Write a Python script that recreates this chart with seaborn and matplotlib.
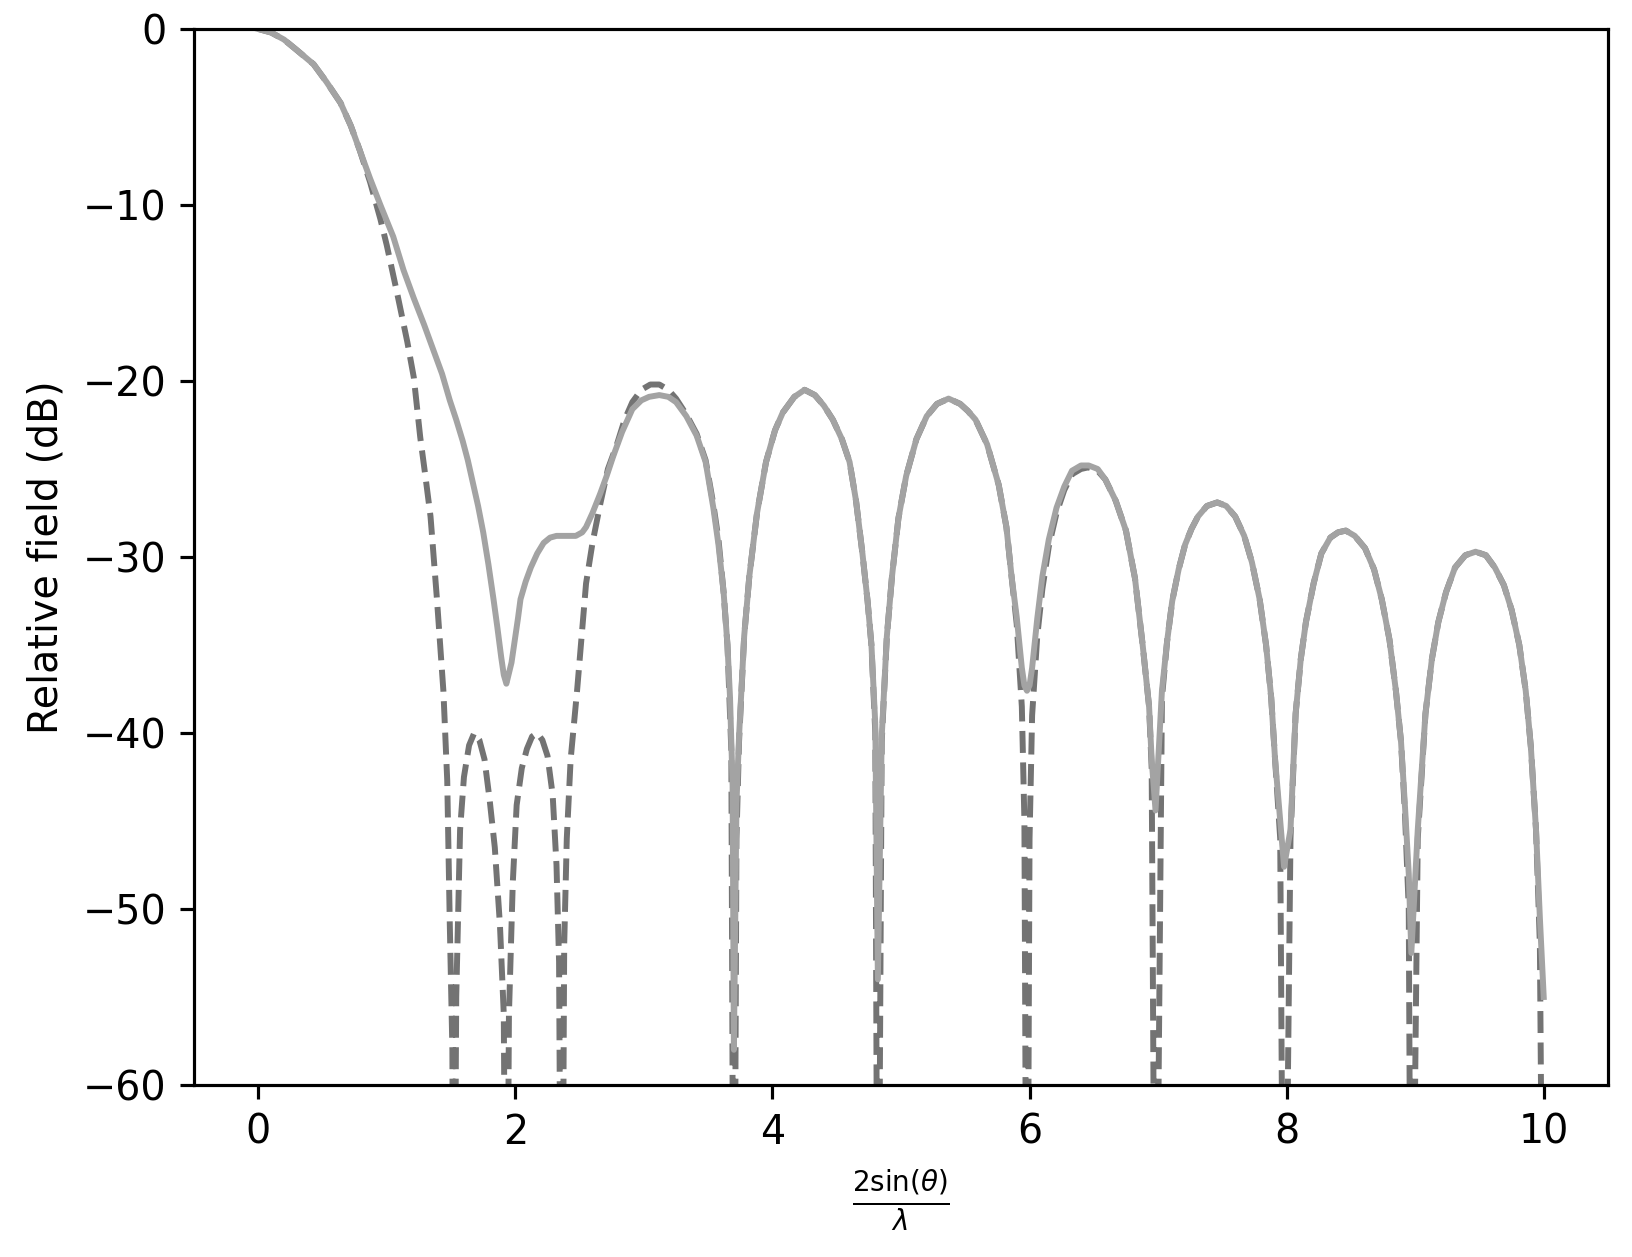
import matplotlib
matplotlib.use("Agg")
import matplotlib.pyplot as plt
import seaborn as sns
import pandas as pd

# values (x = 2 sin(theta) / lambda, y = dB)
head_solid_x = [0.0, 0.1, 0.2, 0.3, 0.43, 0.53, 0.64, 0.72, 0.79, 0.87, 0.95, 1.05, 1.13, 1.21,
                1.29, 1.36, 1.43, 1.49, 1.54, 1.59, 1.63, 1.67, 1.71, 1.75, 1.79, 1.83, 1.86,
                1.89, 1.91, 1.93, 1.95, 1.97, 1.99, 2.02, 2.04, 2.08, 2.12, 2.17, 2.22, 2.27,
                2.32, 2.40, 2.47, 2.52, 2.55, 2.60, 2.66, 2.71, 2.76, 2.83, 2.91, 2.98, 3.04,
                3.12, 3.19, 3.25, 3.33, 3.41, 3.48, 3.54, 3.58, 3.62, 3.65, 3.67, 3.69, 3.70]
head_solid_y = [0.0, -0.2, -0.6, -1.2, -2.0, -3.0, -4.2, -5.5, -6.9, -8.5, -10.0, -11.8, -13.7, -15.3,
                -16.8, -18.2, -19.6, -21.1, -22.2, -23.4, -24.5, -25.8, -27.1, -28.6, -30.4, -32.4, -34.0,
                -35.7, -36.7, -37.2, -36.6, -36.0, -35.0, -33.5, -32.4, -31.4, -30.6, -29.8, -29.2, -28.9,
                -28.8, -28.8, -28.8, -28.6, -28.3, -27.5, -26.4, -25.4, -24.3, -22.9, -21.6, -21.1, -20.9,
                -20.8, -20.9, -21.2, -22.0, -23.1, -24.6, -27.2, -29.3, -32.0, -35.0, -38.0, -43.0, -58.0]

head_dash_x = [0.0, 0.1, 0.2, 0.3, 0.43, 0.53, 0.64, 0.72, 0.79, 0.87, 0.95, 1.00, 1.08, 1.16,
               1.21, 1.26, 1.30, 1.34, 1.39, 1.44, 1.47, 1.49, 1.51, 1.52, 1.54, 1.57, 1.60,
               1.64, 1.68, 1.72, 1.76, 1.80, 1.84, 1.88, 1.91, 1.93, 1.95, 1.98, 2.01, 2.05,
               2.09, 2.13, 2.17, 2.21, 2.25, 2.29, 2.32, 2.34, 2.36, 2.38, 2.40, 2.43, 2.48,
               2.55, 2.60, 2.66, 2.72, 2.79, 2.85, 2.91, 2.98, 3.05, 3.12, 3.19, 3.25, 3.33,
               3.41, 3.48, 3.54, 3.58, 3.62, 3.65, 3.68, 3.70]
head_dash_y = [0.0, -0.2, -0.6, -1.2, -2.0, -3.0, -4.2, -5.5, -6.9, -8.7, -10.8, -12.3, -15.0, -17.8,
               -19.8, -23.2, -25.4, -27.7, -32.4, -37.6, -42.7, -50.9, -58.0, -80.0, -55.0, -45.5, -42.5,
               -40.7, -40.0, -40.4, -41.5, -43.8, -46.5, -50.9, -56.0, -80.0, -56.0, -48.5, -44.1, -42.0,
               -40.9, -40.2, -40.0, -40.4, -41.3, -43.5, -47.5, -53.0, -80.0, -52.0, -46.0, -41.5, -37.6,
               -31.5, -29.2, -27.0, -25.0, -23.6, -22.2, -21.2, -20.5, -20.2, -20.2, -20.5, -21.0, -21.9,
               -23.0, -24.5, -27.0, -29.0, -32.0, -35.0, -41.0, -80.0]

tail_x = [3.72, 3.74, 3.78, 3.82, 3.88, 3.95, 4.02, 4.08, 4.17, 4.25, 4.33, 4.40, 4.47, 4.54,
          4.60, 4.65, 4.70, 4.74, 4.77, 4.80, 4.82, 4.85, 4.89, 4.93, 4.98, 5.04, 5.12, 5.20,
          5.28, 5.37, 5.46, 5.52, 5.58, 5.67, 5.76, 5.82, 5.86, 5.90, 5.94, 5.96, 5.98, 6.00,
          6.02, 6.06, 6.10, 6.15, 6.21, 6.27, 6.33, 6.40, 6.46, 6.53, 6.59, 6.67, 6.75, 6.82,
          6.88, 6.93, 6.95, 6.98, 7.03, 7.07, 7.11, 7.16, 7.21, 7.26, 7.31, 7.38, 7.46, 7.53,
          7.60, 7.67, 7.73, 7.79, 7.84, 7.88, 7.91, 7.95, 7.98, 8.03, 8.07, 8.11, 8.15, 8.21,
          8.27, 8.34, 8.40, 8.46, 8.53, 8.61, 8.68, 8.74, 8.80, 8.85, 8.89, 8.92, 8.95, 8.97,
          9.02, 9.08, 9.13, 9.18, 9.24, 9.31, 9.39, 9.47, 9.55, 9.62, 9.69, 9.75, 9.81, 9.86,
          9.90, 9.94, 9.97, 10.0]
tail_solid_y = [-44.0, -40.2, -34.5, -31.1, -27.5, -24.6, -22.8, -21.8, -20.9, -20.5, -20.8, -21.4, -22.2, -23.3,
                -24.6, -26.8, -29.8, -32.5, -35.0, -39.5, -54.0, -40.2, -34.5, -31.1, -27.8, -25.4, -23.3, -22.0,
                -21.3, -21.0, -21.3, -21.7, -22.2, -23.6, -25.9, -28.3, -31.1, -33.4, -36.3, -37.3, -37.6, -37.3,
                -36.3, -33.5, -31.1, -29.0, -27.2, -26.0, -25.1, -24.8, -24.8, -25.0, -25.6, -26.8, -28.5, -31.2,
                -35.0, -38.5, -41.5, -44.4, -37.6, -34.8, -32.5, -30.7, -29.3, -28.4, -27.7, -27.1, -26.9, -27.1,
                -27.7, -28.8, -30.3, -32.4, -35.0, -38.0, -41.5, -45.0, -47.6, -45.5, -38.9, -35.8, -33.7, -31.5,
                -29.8, -28.9, -28.6, -28.5, -28.8, -29.5, -30.7, -32.4, -34.7, -37.6, -40.5, -44.1, -48.0, -52.5,
                -45.5, -38.9, -35.8, -33.7, -32.0, -30.6, -29.9, -29.7, -29.9, -30.6, -31.6, -33.0, -35.0, -37.6,
                -40.8, -45.5, -50.5, -55.0]
tail_dash_y = [-46.0, -40.5, -34.5, -31.1, -27.5, -24.6, -22.8, -21.8, -20.9, -20.5, -20.8, -21.4, -22.2, -23.3,
               -24.6, -26.8, -29.8, -32.5, -35.0, -40.0, -80.0, -40.5, -34.5, -31.1, -27.8, -25.4, -23.3, -22.0,
               -21.3, -21.0, -21.3, -21.7, -22.2, -23.6, -25.9, -28.3, -31.1, -33.8, -38.5, -45.0, -80.0, -46.0,
               -39.0, -34.5, -31.8, -29.4, -27.5, -26.2, -25.3, -25.0, -24.9, -25.1, -25.6, -26.8, -28.5, -31.2,
               -35.0, -38.5, -42.0, -80.0, -38.0, -34.8, -32.5, -30.7, -29.3, -28.4, -27.7, -27.1, -26.9, -27.1,
               -27.7, -28.8, -30.3, -32.4, -35.0, -38.0, -41.5, -46.0, -80.0, -46.0, -38.9, -35.8, -33.7, -31.5,
               -29.8, -28.9, -28.6, -28.5, -28.8, -29.5, -30.7, -32.4, -34.7, -37.6, -40.5, -44.5, -50.0, -80.0,
               -46.0, -38.9, -35.8, -33.7, -32.0, -30.6, -29.9, -29.7, -29.9, -30.6, -31.6, -33.0, -35.0, -37.6,
               -40.8, -45.5, -52.0, -80.0]

solid = pd.DataFrame({"u": head_solid_x + tail_x, "dB": head_solid_y + tail_solid_y})
dashed = pd.DataFrame({"u": head_dash_x + tail_x, "dB": head_dash_y + tail_dash_y})

s = 2.85  # scale from a 285 dpi figure down to 100 dpi
plt.rcParams.update({
    "font.size": 10 * s,
    "axes.linewidth": 0.8 * s,
    "xtick.major.size": 3.5 * s, "ytick.major.size": 3.5 * s,
    "xtick.major.width": 0.8 * s, "ytick.major.width": 0.8 * s,
    "xtick.major.pad": 3.5 * s, "ytick.major.pad": 3.5 * s,
    "axes.labelpad": 4 * s,
})

fig = plt.figure(figsize=(16.32, 12.57), dpi=100)
ax = fig.add_axes([194 / 1632, 172 / 1257, 1414 / 1632, 1056 / 1257])

# dashed first, the solid curve sits on top of it
sns.lineplot(data=dashed, x="u", y="dB", ax=ax, color="#737373", linewidth=1.5 * s,
             linestyle="--", estimator=None, sort=False)
sns.lineplot(data=solid, x="u", y="dB", ax=ax, color="#a3a3a3", linewidth=1.5 * s,
             estimator=None, sort=False)

ax.set_xlim(-0.5, 10.5)
ax.set_ylim(-60, 0)
ax.set_xlabel(r"$\frac{2\sin(\theta)}{\lambda}$")
ax.set_ylabel("Relative field (dB)")

fig.savefig("out.png", dpi=100)
